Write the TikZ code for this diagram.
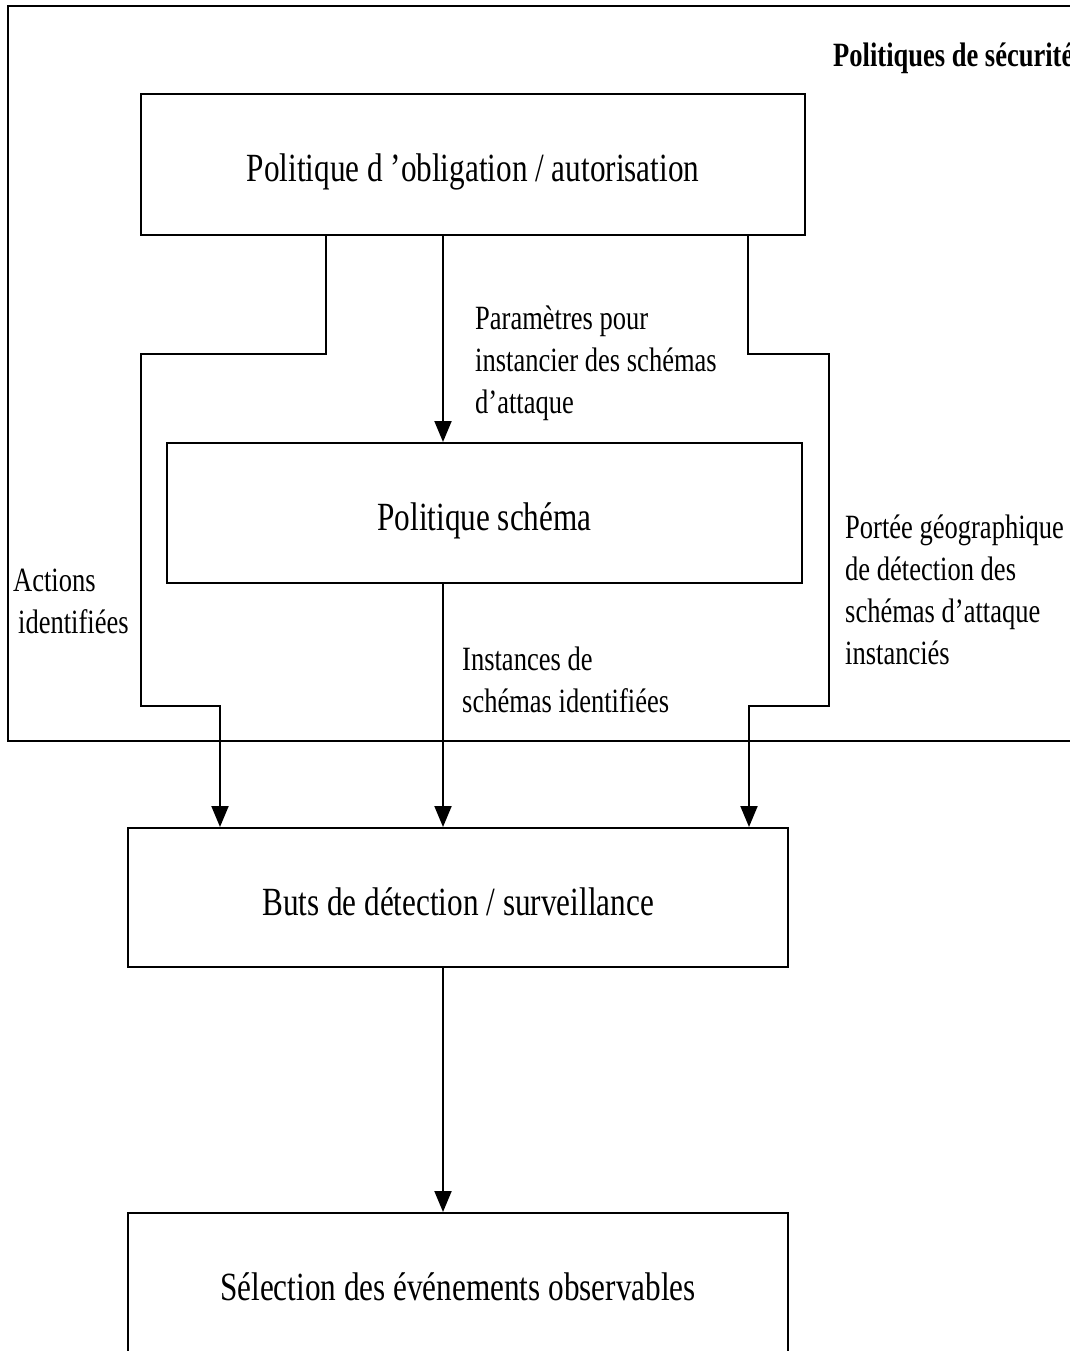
\documentclass[tikz,border=0pt]{standalone}
\usepackage{fontspec}
\setmainfont[FakeStretch=0.78]{Liberation Serif}
\usetikzlibrary{arrows.meta}
\begin{document}
\begin{tikzpicture}[x=1pt,y=-1pt,
  box/.style={draw,line width=2pt,rectangle,inner sep=0pt,
    text height=35pt,text depth=0pt,
    font=\fontsize{40}{48}\selectfont},
  lbl/.style={anchor=base west,inner sep=0pt,align=left,
    font=\fontsize{34}{42}\selectfont},
  wire/.style={line width=2pt},
  arr/.style={wire,-{Triangle[width=17pt,length=21pt]}}]
\useasboundingbox (0,0) rectangle (1070,1351);
\clip (0,0) rectangle (1070,1351);
\fill[white] (0,0) rectangle (1070,1351);

% frame of the security policies (runs past the right edge)
\draw[wire] (1100,6) -- (8,6) -- (8,741) -- (1100,741);
\node[anchor=base west,inner sep=0pt,font=\fontsize{34}{42}\selectfont\bfseries]
  (title) at (833,67) {Politiques de sécurité};

% boxes
\node[box,minimum width=664pt,minimum height=141pt] (b1) at (473,164.5)
  {Politique d ’obligation / autorisation};
\node[box,minimum width=635pt,minimum height=140pt] (b2) at (484.5,513)
  {Politique schéma};
\node[box,minimum width=660pt,minimum height=139pt] (b3) at (458,897.5)
  {Buts de détection / surveillance};
\node[box,minimum width=660pt,minimum height=140pt] (b4) at (458,1283)
  {Sélection des événements observables};

% bend points of the connectors
\coordinate (mid) at (443,0);
\coordinate (lb1) at (326,354);
\coordinate (lb2) at (141,706);
\coordinate (la)  at (220,706);
\coordinate (rb1) at (748,354);
\coordinate (rb2) at (829,706);
\coordinate (ra)  at (749,706);

% connectors
\draw[arr] (b1.south -| mid) -- (b2.north -| mid);
\draw[arr] (b1.south -| lb1) -- (lb1) -| (lb2) -- (la) -- (b3.north -| la);
\draw[arr] (b1.south -| rb1) -- (rb1) -| (rb2) -- (ra) -- (b3.north -| ra);
\draw[arr] (b2.south -| mid) -- (b3.north -| mid);
\draw[arr] (b3.south -| mid) -- (b4.north -| mid);

% connector labels (anchored at the baseline of their last line)
\node[lbl] (lparam) at (475,413)
  {Paramètres pour\\instancier des schémas\\d’attaque};
\node[lbl] (lact) at (13,633) {Actions\\\hspace*{5pt}identifiées};
\node[lbl] (lport) at (845,664)
  {Portée géographique\\de détection des\\schémas d’attaque\\instanciés};
\node[lbl] (linst) at (462,712) {Instances de\\schémas identifiées};
\end{tikzpicture}
\end{document}
